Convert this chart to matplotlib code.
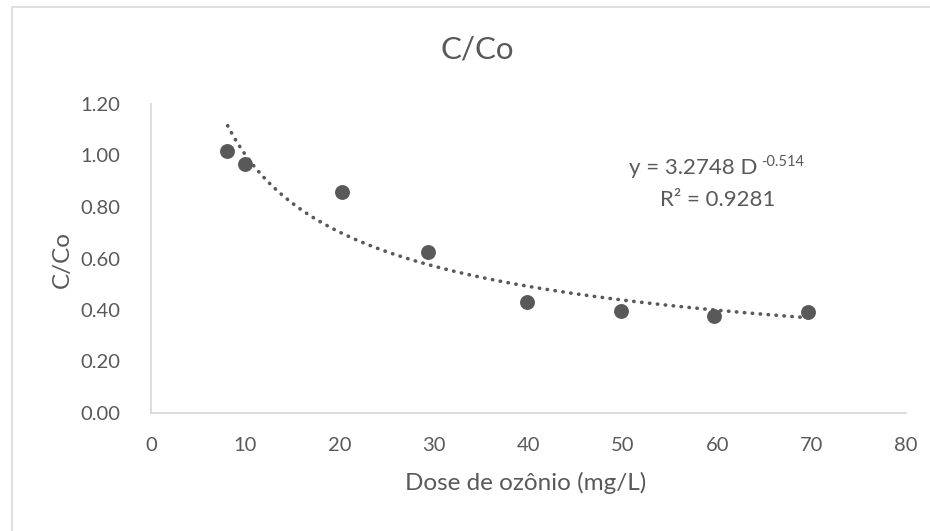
import numpy as np
import matplotlib
matplotlib.use("Agg")
import matplotlib.pyplot as plt
from matplotlib.patches import Rectangle

plt.rcParams['font.family'] = ['Lato', 'DejaVu Sans']

# data
dose = [8.0, 10.0, 20.2, 29.4, 39.8, 49.8, 59.7, 69.6]
c_co = [1.017, 0.967, 0.858, 0.624, 0.431, 0.396, 0.377, 0.391]

# power trendline shown on the chart
coef_a = 3.2748
coef_b = -0.514
r2 = 0.9281

xticks = [0, 10, 20, 30, 40, 50, 60, 70, 80]
yticks = [0.0, 0.2, 0.4, 0.6, 0.8, 1.0, 1.2]

grey = '#595959'
light = '#d9d9d9'

fig = plt.figure(figsize=(9.3, 5.31), dpi=100)
ax = fig.add_axes([151 / 930, 1 - 413 / 531, (906 - 151) / 930, (413 - 104) / 531])

# outer chart border (cropped on right/bottom)
fig.patches.append(Rectangle((12 / 930, -0.1), 1.2, 1 - 7 / 531 + 0.1,
                             transform=fig.transFigure, fill=False,
                             edgecolor=light, linewidth=1.2))

xt = np.linspace(min(dose), max(dose), 200)
ax.plot(xt, coef_a * xt ** coef_b, color=grey, linewidth=2.6,
        linestyle=(1.5, (0.1, 2.1)), dash_capstyle='round', zorder=2)
ax.scatter(dose, c_co, s=115, color=grey, zorder=3, linewidths=0)

ax.set_xlim(0, 80)
ax.set_ylim(0, 1.2)
ax.set_xticks(xticks)
ax.set_yticks(yticks)
ax.set_yticklabels([f"{v:.2f}" for v in yticks])
ax.tick_params(length=0, labelsize=14.5, labelcolor=grey)
ax.tick_params(axis='y', pad=22)
ax.tick_params(axis='x', pad=17)

for s in ['top', 'right']:
    ax.spines[s].set_visible(False)
for s in ['left', 'bottom']:
    ax.spines[s].set_color(light)
    ax.spines[s].set_linewidth(1.3)

fig.text(477 / 930, 1 - 50 / 531, "C/Co", ha='center', va='center',
         fontsize=22.5, color=grey)
fig.text(526 / 930, 1 - 483 / 531, "Dose de ozônio (mg/L)", ha='center',
         va='center', fontsize=17.5, color=grey)
fig.text(62 / 930, 1 - 260 / 531, "C/Co", ha='center', va='center',
         rotation=90, fontsize=17.5, color=grey)

# trendline equation: main part plus raised exponent
fig.text(757 / 930, 1 - 168 / 531, f"y = {coef_a} D", ha='right', va='center',
         fontsize=16, color=grey)
fig.text(761 / 930, 1 - 162 / 531, f"{coef_b}", ha='left', va='center',
         fontsize=10.5, color=grey)
fig.text(718 / 930, 1 - 200 / 531, f"R² = {r2}", ha='center', va='center',
         fontsize=16, color=grey)

fig.savefig("out.png", dpi=100)
